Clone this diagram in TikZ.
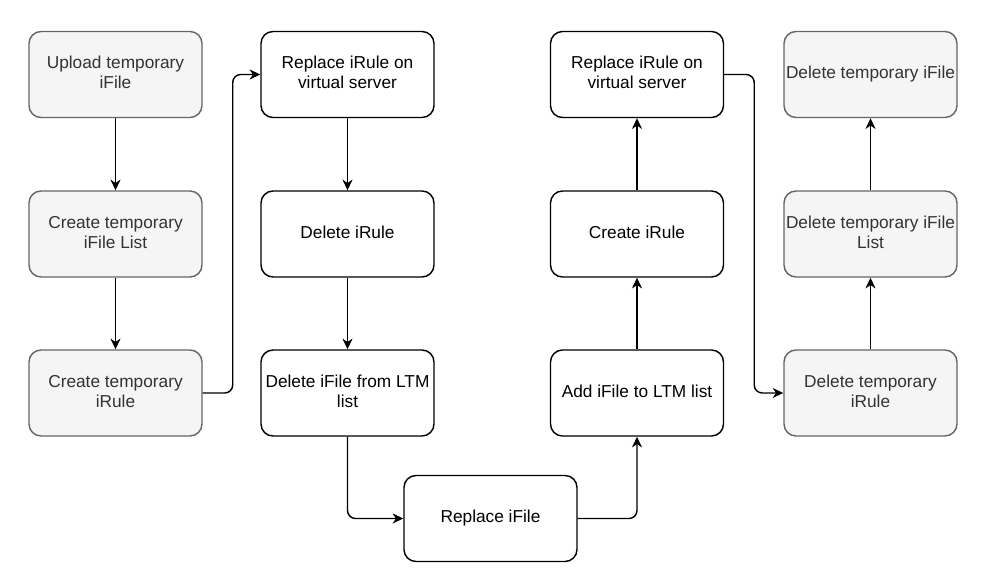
\documentclass[tikz,border=0pt]{standalone}
\usepackage{fontspec}
\setmainfont{Liberation Sans}
\usetikzlibrary{arrows.meta}
\definecolor{gfill}{HTML}{F5F5F5}
\definecolor{gline}{HTML}{666666}
\definecolor{gtext}{HTML}{333333}
\tikzset{
  box/.style={draw=black, fill=white, rounded corners=9pt, line width=1.08pt,
    minimum width=129.75pt, minimum height=64.5pt, align=center, inner sep=1pt,
    font=\fontsize{12.96}{15}\selectfont, text=black,
    execute at end node={\rule[-3pt]{0pt}{0pt}}},
  gbox/.style={box, draw=gline, fill=gfill, text=gtext},
  arr/.style={draw=black, line width=1.08pt, rounded corners=6pt,
    -{Stealth[length=8pt, width=7.5pt, inset=2.5pt]}}
}
\begin{document}
\begin{tikzpicture}[x=0.75pt, y=-0.75pt]
\useasboundingbox (0,0) rectangle (988,579);
% column 1
\node[gbox] (a1) at (115.5,74.5) {Upload temporary\\iFile};
\node[gbox] (a2) at (115.5,234) {Create temporary\\iFile List};
\node[gbox] (a3) at (115.5,393) {Create temporary\\iRule};
% column 2
\node[box] (b1) at (347.5,74.5) {Replace iRule on\\virtual server};
\node[box] (b2) at (347.5,234) {Delete iRule};
\node[box] (b3) at (347.5,393) {Delete iFile from LTM\\list};
% bottom
\node[box] (r) at (490.5,518.5) {Replace iFile};
% column 3
\node[box] (c1) at (637,74.5) {Replace iRule on\\virtual server};
\node[box] (c2) at (637,234) {Create iRule};
\node[box] (c3) at (637,393) {Add iFile to LTM list};
% column 4
\node[gbox] (d1) at (870.5,74.5) {Delete temporary iFile};
\node[gbox] (d2) at (870.5,234) {Delete temporary iFile\\List};
\node[gbox] (d3) at (870.5,393) {Delete temporary\\iRule};
% connectors
\draw[arr] (a1) -- (a2);
\draw[arr] (a2) -- (a3);
\draw[arr] (a3.east) -- ++(30,0) |- (b1.west);
\draw[arr] (b1) -- (b2);
\draw[arr] (b2) -- (b3);
\draw[arr] (b3.south) |- (r.west);
\draw[arr] (r.east) -| (c3.south);
\draw[arr] (c3) -- (c2);
\draw[arr] (c2) -- (c1);
\draw[arr] (c1.east) -- ++(30,0) |- (d3.west);
\draw[arr] (d3) -- (d2);
\draw[arr] (d2) -- (d1);
\end{tikzpicture}
\end{document}
